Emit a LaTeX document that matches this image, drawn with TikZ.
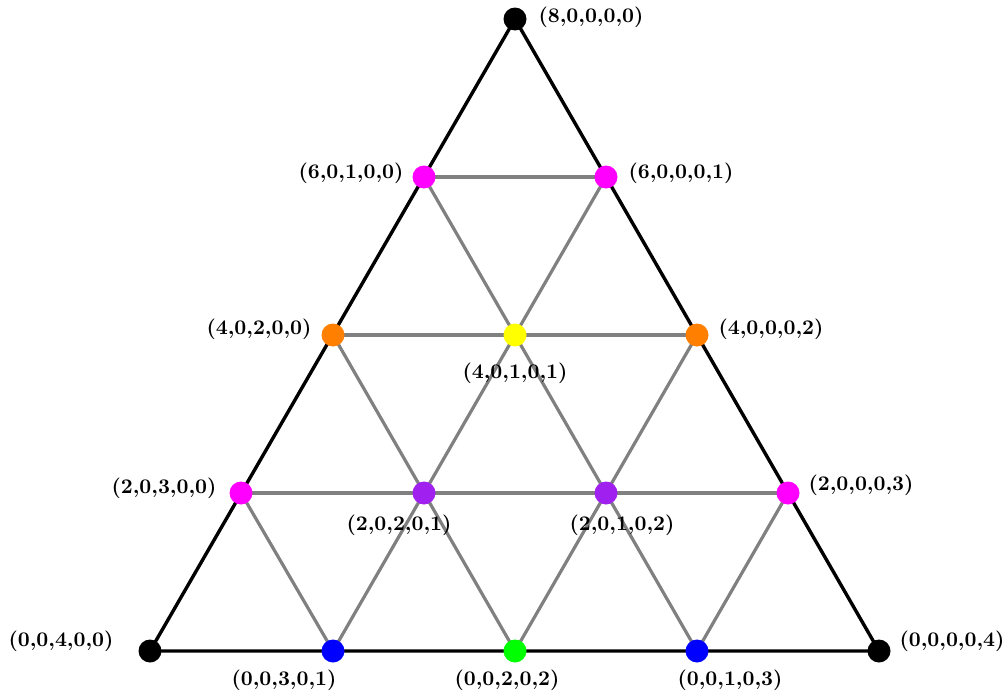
\documentclass[tikz,border=0pt]{standalone}
\definecolor{cmag}{RGB}{255,0,255}
\definecolor{corange}{RGB}{255,128,0}
\definecolor{cyel}{RGB}{255,255,0}
\definecolor{cpurp}{RGB}{160,32,240}
\definecolor{cblue}{RGB}{0,0,255}
\definecolor{cgreen}{RGB}{0,255,0}
\definecolor{cgray}{RGB}{128,128,128}
\begin{document}
\begin{tikzpicture}[x=0.5pt,y=-0.5pt,
  dot/.style={circle,inner sep=0pt,minimum size=11.5pt},
  lbl/.style={font=\fontsize{10.4}{12}\selectfont\bfseries,inner sep=0pt},
  outer/.style={black,line width=1.7pt},
  inner/.style={cgray,line width=1.6pt}]
\useasboundingbox (0,0) rectangle (1008,696);
% coordinates
\coordinate (p80000) at (515,19);
\coordinate (p60100) at (424,177);
\coordinate (p60001) at (606,177);
\coordinate (p40200) at (333,335);
\coordinate (p40101) at (515,335);
\coordinate (p40002) at (697,335);
\coordinate (p20300) at (241,493);
\coordinate (p20201) at (424,493);
\coordinate (p20102) at (606,493);
\coordinate (p20003) at (788,493);
\coordinate (p00400) at (150,651);
\coordinate (p00301) at (333,651);
\coordinate (p00202) at (515,651);
\coordinate (p00103) at (697,651);
\coordinate (p00004) at (879,651);
% inner gray lines
\draw[inner] (p60100) -- (p60001);
\draw[inner] (p40200) -- (p40002);
\draw[inner] (p20300) -- (p20003);
\draw[inner] (p60100) -- (p00103);
\draw[inner] (p60001) -- (p00301);
\draw[inner] (p40200) -- (p00202);
\draw[inner] (p40002) -- (p00202);
\draw[inner] (p20300) -- (p00301);
\draw[inner] (p20003) -- (p00103);
% outer triangle
\draw[outer,line join=round] (p80000) -- (p00400) -- (p00004) -- cycle;
% dots
\node[dot,fill=black] (n80000) at (p80000) {};
\node[dot,fill=cmag] (n60100) at (p60100) {};
\node[dot,fill=cmag] (n60001) at (p60001) {};
\node[dot,fill=corange] (n40200) at (p40200) {};
\node[dot,fill=cyel] (n40101) at (p40101) {};
\node[dot,fill=corange] (n40002) at (p40002) {};
\node[dot,fill=cmag] (n20300) at (p20300) {};
\node[dot,fill=cpurp] (n20201) at (p20201) {};
\node[dot,fill=cpurp] (n20102) at (p20102) {};
\node[dot,fill=cmag] (n20003) at (p20003) {};
\node[dot,fill=black] (n00400) at (p00400) {};
\node[dot,fill=cblue] (n00301) at (p00301) {};
\node[dot,fill=cgreen] (n00202) at (p00202) {};
\node[dot,fill=cblue] (n00103) at (p00103) {};
\node[dot,fill=black] (n00004) at (p00004) {};
% labels
\node[lbl] (l80000) at (591,17) {(8,0,0,0,0)};
\node[lbl] (l60100) at (351,173) {(6,0,1,0,0)};
\node[lbl] (l60001) at (681,173) {(6,0,0,0,1)};
\node[lbl] (l40200) at (259,329) {(4,0,2,0,0)};
\node[lbl] (l40002) at (771,329) {(4,0,0,0,2)};
\node[lbl] (l40101) at (515,373) {(4,0,1,0,1)};
\node[lbl] (l20300) at (164,488) {(2,0,3,0,0)};
\node[lbl] (l20003) at (861,485) {(2,0,0,0,3)};
\node[lbl] (l20201) at (399,525) {(2,0,2,0,1)};
\node[lbl] (l20102) at (622,525) {(2,0,1,0,2)};
\node[lbl] (l00400) at (61,641) {(0,0,4,0,0)};
\node[lbl] (l00004) at (952,641) {(0,0,0,0,4)};
\node[lbl] (l00301) at (284,680) {(0,0,3,0,1)};
\node[lbl] (l00202) at (507,680) {(0,0,2,0,2)};
\node[lbl] (l00103) at (730,680) {(0,0,1,0,3)};
\end{tikzpicture}
\end{document}
